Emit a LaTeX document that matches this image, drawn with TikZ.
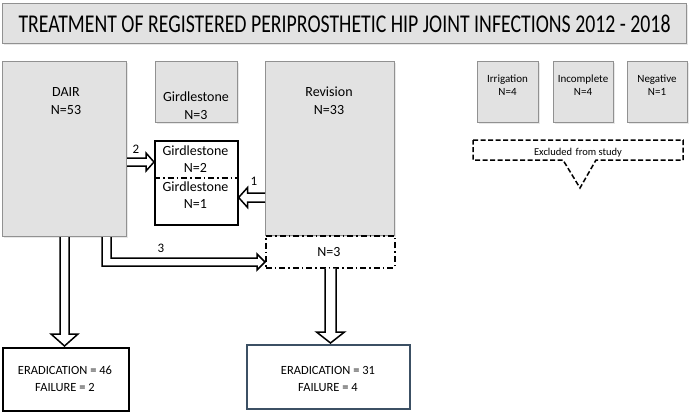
\documentclass[tikz,border=0pt]{standalone}
\usepackage{fontspec}
\usepackage{graphicx}
\setmainfont{Carlito}
\usetikzlibrary{calc,shadows}
\definecolor{boxgray}{RGB}{226,226,226}
\definecolor{boxedge}{RGB}{145,145,145}
\definecolor{slate}{RGB}{60,80,100}
\tikzset{
  graybox/.style={draw=boxedge, fill=boxgray, line width=1.2pt, inner sep=0pt, anchor=north west,
    drop shadow={opacity=0.18, shadow xshift=1.2pt, shadow yshift=-1.2pt}},
  whitebox/.style={draw=black, fill=white, line width=1.6pt, inner sep=0pt, anchor=north west},
  txt/.style={inner sep=0pt, anchor=base, align=center},
  hollow/.style={draw=black, fill=white, line width=1.5pt, line join=miter},
  dashdot/.style={line width=1.5pt, dash pattern=on 6pt off 3pt on 1.5pt off 3pt},
  fmain/.style={font=\fontsize{14}{18}\selectfont},
  fsmall/.style={font=\fontsize{11}{13}\selectfont},
  fres/.style={font=\fontsize{12.5}{17}\selectfont},
}
\begin{document}
\begin{tikzpicture}[x=1pt,y=-1pt]
\useasboundingbox (0,0) rectangle (689,413);
% title
\node[graybox, minimum width=684pt, minimum height=40pt] (title) at (2,3) {};
\node[inner sep=0pt] (titletxt) at (title.center) {\resizebox{652pt}{17.5pt}{TREATMENT OF REGISTERED PERIPROSTHETIC HIP JOINT INFECTIONS 2012 - 2018}};
% gray boxes
\node[graybox, minimum width=124pt, minimum height=175pt] (dair) at (2,61) {};
\node[graybox, minimum width=82pt, minimum height=61pt] (g3) at (155,61) {};
\node[graybox, minimum width=129pt, minimum height=174pt] (rev) at (265,61) {};
\node[graybox, minimum width=61pt, minimum height=61pt] (irr) at (477,61) {};
\node[graybox, minimum width=60pt, minimum height=61pt] (inc) at (553,61) {};
\node[graybox, minimum width=60pt, minimum height=61pt] (neg) at (627,61) {};
% texts in gray boxes (anchor = baseline of last line)
\node[txt, fmain] (dairt) at (66,114) {DAIR\\N=53};
\node[txt, fmain] (g3t) at (196,119) {Girdlestone\\N=3};
\node[txt, fmain] (revt) at (329,114) {Revision\\N=33};
\node[txt, fsmall] (irrt) at (507.5,95) {Irrigation\\N=4};
\node[txt, fsmall] (inct) at (583,95) {Incomplete\\N=4};
\node[txt, fsmall] (negt) at (657,95) {Negative\\N=1};
% girdlestone split box
\node[whitebox, minimum width=83pt, minimum height=84pt] (gbox) at (154,140) {};
\draw[dashdot] (gbox.west |- 0,178) -- (gbox.east |- 0,178);
\node[txt, fmain, font=\fontsize{14}{17}\selectfont] (gbt1) at (195.5,172.3) {Girdlestone\\N=2};
\node[txt, fmain, font=\fontsize{14}{17}\selectfont] (gbt2) at (195.5,208) {Girdlestone\\N=1};
% N=3 dash-dot box
\node[draw=black, dashdot, minimum width=129pt, minimum height=32pt, inner sep=0pt, anchor=north west] (nbox) at (265,235) {};
\node[txt, fmain] (nboxt) at (329,256.5) {N=3};
% excluded callout
\coordinate (exa) at (473,140);
\coordinate (exb) at (683,160);
\draw[line width=1.5pt, dash pattern=on 5pt off 2.5pt] (exa) -- (exa -| exb) -- (exb) -- (596,160) -- (580,188) -- (563,160) -- (exa |- exb) -- cycle;
\node[txt, font=\fontsize{10.5}{12}\selectfont] (excl) at (578,155) {Excluded\,\,from study};
% result boxes
\node[whitebox, minimum width=126pt, minimum height=63pt] (erL) at (2,347) {};
\node[txt, fres] (erLt) at (65,391) {ERADICATION = 46\\FAILURE = 2};
\node[draw=slate, fill=white, line width=1.5pt, inner sep=0pt, anchor=north west, minimum width=163pt, minimum height=64pt] (erR) at (246,344) {};
\node[txt, fres] (erRt) at (328,391) {ERADICATION = 31\\FAILURE = 4};
% arrow 2 : DAIR -> girdlestone
\coordinate (a2s) at (dair.east |- 0,162);
\coordinate (a2e) at (gbox.west |- 0,162);
\draw[hollow] ($(a2s)+(0,-4)$) -- ($(a2e)+(-8,-4)$) -- ($(a2e)+(-8,-9)$) -- (a2e) -- ($(a2e)+(-8,9)$) -- ($(a2e)+(-8,4)$) -- ($(a2s)+(0,4)$);
\node[txt, font=\fontsize{13}{15}\selectfont] (l2) at (136,153) {2};
% arrow 1 : revision -> girdlestone
\coordinate (a1s) at (rev.west |- 0,197.5);
\coordinate (a1e) at (gbox.east |- 0,197.5);
\draw[hollow] ($(a1s)+(0,-4.5)$) -- ($(a1e)+(9,-4.5)$) -- ($(a1e)+(9,-10)$) -- (a1e) -- ($(a1e)+(9,10)$) -- ($(a1e)+(9,4.5)$) -- ($(a1s)+(0,4.5)$);
\node[txt, font=\fontsize{13}{15}\selectfont] (l1) at (254,185) {1};
% arrow 3 : DAIR -> N=3
\coordinate (a3s) at (dair.south -| 106.5,0);
\coordinate (a3e) at (nbox.west |- 0,262);
\draw[hollow] ($(a3s)+(-4.5,0)$) -- ($(a3s |- a3e)+(-4.5,4)$) -- ($(a3e)+(-8,4)$) -- ($(a3e)+(-8,8)$) -- (a3e) -- ($(a3e)+(-8,-8)$) -- ($(a3e)+(-8,-4)$) -- ($(a3s |- a3e)+(4.5,-4)$) -- ($(a3s)+(4.5,0)$);
\node[txt, font=\fontsize{13}{15}\selectfont] (l3) at (161,252) {3};
% down arrow left
\coordinate (dls) at (dair.south -| 64.5,0);
\coordinate (dle) at (erL.north -| 64.5,0);
\draw[hollow] ($(dls)+(-4.5,0)$) -- ($(dle)+(-4.5,-13)$) -- ($(dle)+(-13.5,-13)$) -- ($(dle)+(0,-1)$) -- ($(dle)+(13.5,-13)$) -- ($(dle)+(4.5,-13)$) -- ($(dls)+(4.5,0)$);
% down arrow right
\coordinate (drs) at (nbox.south -| 330.5,0);
\coordinate (dre) at (erR.north -| 330.5,0);
\draw[hollow] ($(drs)+(-5.5,0)$) -- ($(dre)+(-5.5,-12)$) -- ($(dre)+(-14,-12)$) -- ($(dre)+(0,-1)$) -- ($(dre)+(14,-12)$) -- ($(dre)+(5.5,-12)$) -- ($(drs)+(5.5,0)$);
\end{tikzpicture}
\end{document}
